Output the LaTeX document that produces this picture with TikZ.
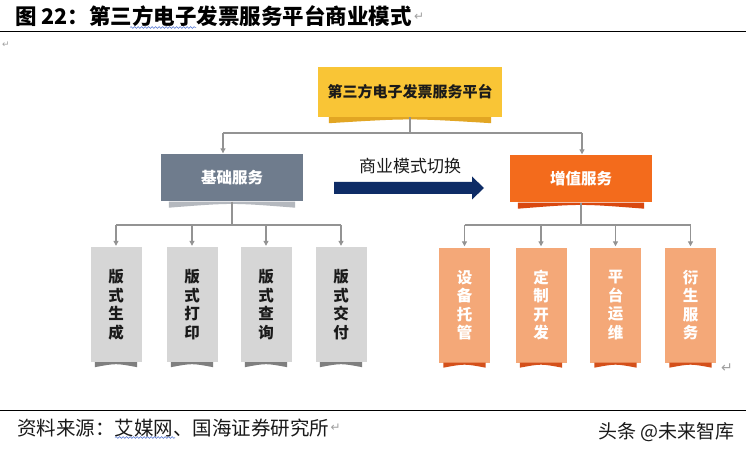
\documentclass[tikz,border=0pt]{standalone}
\usepackage{fontspec}
\usetikzlibrary{arrows.meta,decorations.pathmorphing}
\newfontfamily\cjk{Noto Sans CJK SC}
\newfontfamily\djv{DejaVu Sans}
\definecolor{cYel}{HTML}{F9C536}
\definecolor{cYelD}{HTML}{E2A623}
\definecolor{cSlate}{HTML}{6F7C8D}
\definecolor{cSlateL}{HTML}{B4B8BE}
\definecolor{cOr}{HTML}{F36B1C}
\definecolor{cOrD}{HTML}{D9480F}
\definecolor{cGr}{HTML}{D6D6D6}
\definecolor{cGrD}{HTML}{7F7F7F}
\definecolor{cLo}{HTML}{F4A878}
\definecolor{cLoD}{HTML}{D4501A}
\definecolor{cLine}{HTML}{939393}
\definecolor{cNavy}{HTML}{0E2C66}
\definecolor{cTxt}{HTML}{1A1A1A}
\definecolor{cWave}{HTML}{4A6FD0}
\definecolor{cMark}{HTML}{A0A0A0}
\newcommand\ribbon[4]{%
  \fill[#3] ([xshift=#2]#1.south west) -- ([xshift=-#2]#1.south east)
    -- ([xshift=-#2,yshift=-#4]#1.south east)
    .. controls ([yshift=-1pt]#1.south) and ([yshift=-1pt]#1.south) ..
    ([xshift=#2,yshift=-#4]#1.south west) -- cycle;}
\begin{document}
\begin{tikzpicture}[x=1pt,y=-1pt,
  topbox/.style={fill=cYel, minimum width=184pt, minimum height=50pt, inner sep=0pt,
    font=\cjk\bfseries\fontsize{15}{18}\selectfont, text=cTxt},
  midbox/.style={minimum width=142pt, minimum height=47pt, inner sep=0pt,
    font=\cjk\bfseries\fontsize{15.5}{18}\selectfont, text=white},
  colbox/.style={minimum width=51pt, minimum height=115pt, inner sep=0pt, align=center,
    font=\cjk\bfseries\fontsize{15.5}{18.5}\selectfont},
  graybox/.style={colbox, fill=cGr, text=cTxt},
  orbox/.style={colbox, fill=cLo, text=white},
  ln/.style={draw=cLine, line width=1.1pt},
  ar/.style={ln, -{Triangle[length=5pt,width=5pt]}, shorten >=1pt},
  pmk/.style={font=\djv\fontsize{12}{12}\selectfont, text=cMark, inner sep=0pt},
  wave/.style={draw=cWave, line width=0.5pt, decorate,
    decoration={snake, amplitude=0.9pt, segment length=3.5pt}}
]
\useasboundingbox[fill=white] (0,0) rectangle (746,454);

% title
\node[anchor=west, inner sep=0pt, font=\cjk\bfseries\fontsize{21.5}{24}\selectfont, text=black]
  (title) at (15,16.5) {图 22：第三方电子发票服务平台商业模式};
\node[pmk, anchor=west] (tmark) at ([xshift=2pt]title.east) {↵};
\draw[black, line width=0.8pt] (0,31) -- (746,31);
\draw[wave] (130,27.5) -- (196,27.5);
\node[pmk, font=\djv\fontsize{9}{9}\selectfont] (pmark) at (6,45) {↵};

% boxes
\node[topbox] (top) at (410,92) {第三方电子发票服务平台};
\ribbon{top}{11pt}{cYelD}{6pt}
\node[midbox, fill=cSlate] (base) at (232,178) {基础服务};
\ribbon{base}{8pt}{cSlateL}{6pt}
\node[midbox, fill=cOr] (plus) at (581,179) {增值服务};
\ribbon{plus}{8pt}{cOrD}{6pt}

\node[graybox] (g1) at (116,304.5) {版\\式\\生\\成};
\node[graybox] (g2) at (192,304.5) {版\\式\\打\\印};
\node[graybox] (g3) at (266,304.5) {版\\式\\查\\询};
\node[graybox] (g4) at (341,304.5) {版\\式\\交\\付};
\node[orbox] (o1) at (464.5,305) {设\\备\\托\\管};
\node[orbox] (o2) at (541,305) {定\\制\\开\\发};
\node[orbox] (o3) at (615.5,305) {平\\台\\运\\维};
\node[orbox] (o4) at (690.5,305) {衍\\生\\服\\务};
\foreach \n in {g1,g2,g3,g4} {\ribbon{\n}{4.5pt}{cGrD}{5pt}}
\foreach \n in {o1,o2,o3,o4} {\ribbon{\n}{4.5pt}{cLoD}{5pt}}

% connectors top level
\coordinate (j0) at (410,133);
\coordinate (jl) at (223,133);
\coordinate (jr) at (582,133);
\draw[ln] (top.south) -- (j0);
\draw[ln] (jl) -- (jr);
\draw[ar] (jl) -- (jl |- base.north);
\draw[ar] (jr) -- (jr |- plus.north);

% connectors left
\coordinate (k0) at (232,225);
\coordinate (kl) at (116,225);
\coordinate (kr) at (341,225);
\draw[ln] (base.south) -- (k0);
\draw[ln] (kl) -- (kr);
\foreach \n in {g1,g2,g3,g4} {\draw[ar] (\n.north |- k0) -- (\n.north);}

% connectors right
\coordinate (m0) at (581,225);
\coordinate (ml) at (464.5,225);
\coordinate (mr) at (690.5,225);
\draw[ln] (plus.south) -- (m0);
\draw[ln] (ml) -- (mr);
\foreach \n in {o1,o2,o3,o4} {\draw[ar] (\n.north |- m0) -- (\n.north);}

% big arrow
\fill[cNavy] (334,182) -- (472,182) -- (472,176.5) -- (484,188) -- (472,199.5)
  -- (472,194) -- (334,194) -- cycle;
\node[inner sep=0pt, font=\cjk\fontsize{17}{20}\selectfont, text=cTxt] (switch) at (410,166.5) {商业模式切换};

\node[pmk, font=\djv\fontsize{14}{14}\selectfont] (bmark) at (727,368.5) {↵};

% footer
\draw[black, line width=0.8pt] (0,410) -- (746,410);
\node[anchor=west, inner sep=0pt, font=\cjk\fontsize{19.5}{21}\selectfont, text=cTxt]
  (src) at (17,428) {资料来源：艾媒网、国海证券研究所};
\node[pmk, anchor=west] (smark) at ([xshift=1pt]src.east) {↵};
\draw[wave] (115,437.5) -- (175,437.5);
\node[anchor=west, inner sep=0pt, font=\cjk\fontsize{19}{21}\selectfont, text=cTxt]
  (brand) at (598,432) {头条 @未来智库};
\end{tikzpicture}
\end{document}
